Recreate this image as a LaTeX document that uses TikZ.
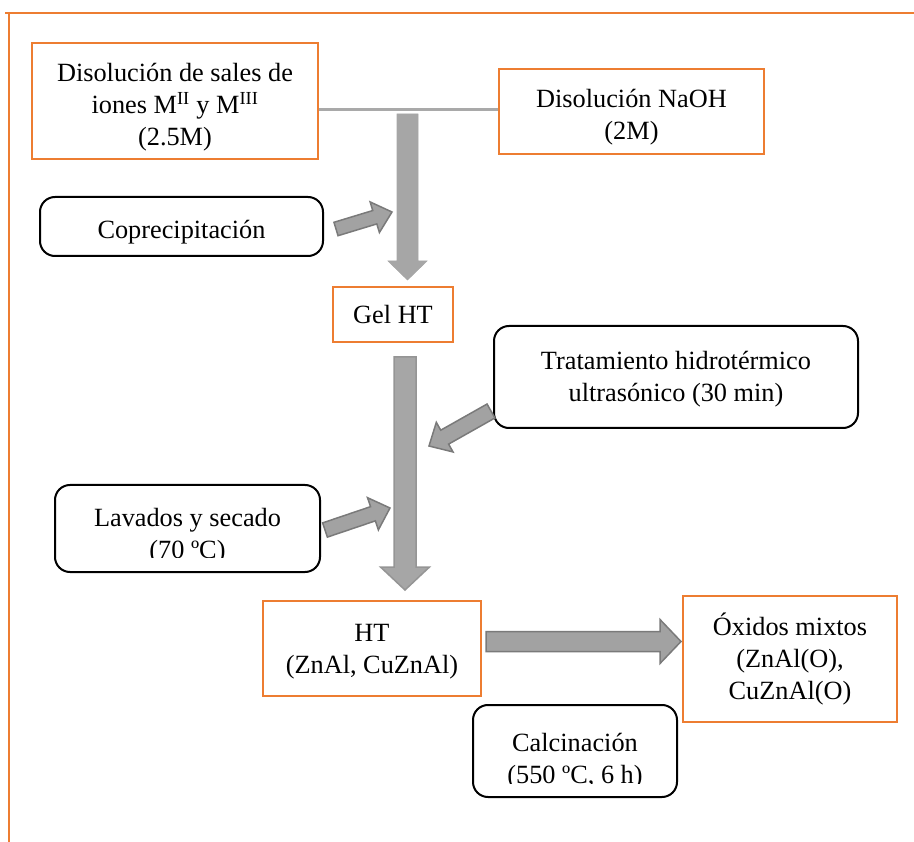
\documentclass[tikz,border=0pt]{standalone}
\usepackage{fontspec}
\setmainfont{Liberation Serif}
\usetikzlibrary{calc}

\definecolor{frameorange}{HTML}{ED7D31}
\definecolor{shaftgray}{HTML}{A6A6A6}
\definecolor{arrowfill}{HTML}{A2A2A2}
\definecolor{arrowedge}{HTML}{7A7A7A}
\definecolor{linkgray}{HTML}{A9A9A9}

% Block arrow: style, tail, tip, shaft half-width, head half-width, head length
\newcommand\grayarrow[6]{%
  \coordinate (ga-base) at ($(#3)!#6!(#2)$);
  \filldraw[#1]
    ($(#2)!#4!90:(#3)$) -- ($(ga-base)!#4!90:(#3)$) --
    ($(ga-base)!#5!90:(#3)$) -- (#3) --
    ($(ga-base)!#5!-90:(#3)$) -- ($(ga-base)!#4!-90:(#3)$) --
    ($(#2)!#4!-90:(#3)$) -- cycle;
}
% a taller first line pushes a text block down inside its box
\newcommand\topstrut[1]{\rule{0pt}{#1}}

\begin{document}
\begin{tikzpicture}[x=1pt, y=-1pt,
  every node/.style={font=\fontsize{26.3}{32}\selectfont, inner sep=0pt, align=center},
  orangebox/.style={draw=frameorange, line width=2.2pt},
  roundbox/.style={draw=black, line width=2pt, rounded corners=15pt},
  flatarrow/.style={fill=shaftgray, draw=shaftgray, line width=0.6pt},
  edgedarrow/.style={fill=shaftgray, draw=arrowedge!80!white, line width=1.5pt},
  smallarrow/.style={fill=arrowfill, draw=arrowedge, line width=1.5pt, line join=miter}]

\useasboundingbox (0,0) rectangle (914,842);

% page frame
\draw[frameorange, line width=2.6pt] (5,13) -- (914,13);
\draw[frameorange, line width=2.6pt] (9,12) -- (9,842);

% process boxes
\node[orangebox, minimum width=286pt, minimum height=116pt] (salts) at (175,101)
  {\topstrut{31pt}Disolución de sales de\\ iones M\textsuperscript{II} y M\textsuperscript{III}\\ (2.5M)};
\node[orangebox, minimum width=265pt, minimum height=85pt] (naoh) at (631.5,111.5)
  {\topstrut{29pt}Disolución NaOH\\ (2M)};
\node[roundbox, minimum width=283pt, minimum height=59pt] (coprec) at (181.5,226.5)
  {\topstrut{30pt}Coprecipitación};
\node[orangebox, minimum width=120pt, minimum height=55pt] (gel) at (393,314.5)
  {Gel HT};
\node[roundbox, minimum width=364pt, minimum height=102pt] (trat) at (676,377)
  {\topstrut{23pt}Tratamiento hidrotérmico\\ ultrasónico (30 min)};
\node[roundbox, minimum width=265pt, minimum height=87pt] (lav) at (187.5,528.5) {};
\begin{scope}
  \clip (lav.north west) rectangle ($(lav.east)+(0,29)$);
  \node (lavtext) at (187.5,536) {Lavados y secado\\ (70 ºC)};
\end{scope}
\node[orangebox, minimum width=218pt, minimum height=95pt] (ht) at (372,648.5)
  {\topstrut{23pt}HT\\ (ZnAl, CuZnAl)};
\node[orangebox, minimum width=214pt, minimum height=126pt] (oxid) at (790,659)
  {Óxidos mixtos\\ (ZnAl(O),\\ CuZnAl(O)};
\node[roundbox, minimum width=204pt, minimum height=92pt] (calcbox) at (575,751) {};
\begin{scope}
  \clip (calcbox.north west) rectangle ($(calcbox.east)+(0,32)$);
  \node (calctext) at (575,761) {Calcinación\\ (550 ºC, 6 h)};
\end{scope}

% joining line of the two solutions
\draw[linkgray, line width=3pt] (salts.east |- 0,110) -- (naoh.west |- 0,110);

% arrow end points
\coordinate (mixtop) at (407.5,114);
\coordinate (mixtip) at (407.5,280);
\coordinate (geltail) at (405,357);
\coordinate (geltip) at (405,590);
\coordinate (coptail) at (336,229);
\coordinate (coptip) at (392,212);
\coordinate (trattail) at (491,411);
\coordinate (trattip) at (429,446);
\coordinate (lavtail) at (325,530);
\coordinate (lavtip) at (390,508);
\coordinate (httail) at (486,641.5);
\coordinate (httip) at (681,641.5);

% main flow arrows
\grayarrow{flatarrow}{mixtop}{mixtip}{10.5pt}{19.5pt}{19pt}
\grayarrow{edgedarrow}{geltail}{geltip}{11pt}{24.5pt}{23pt}
\grayarrow{smallarrow}{httail}{httip}{10pt}{22pt}{21pt}

% side-step arrows
\grayarrow{smallarrow}{coptail}{coptip}{7pt}{16pt}{18pt}
\grayarrow{smallarrow}{trattail}{trattip}{8pt}{17pt}{18pt}
\grayarrow{smallarrow}{lavtail}{lavtip}{7.5pt}{17pt}{18pt}

\end{tikzpicture}
\end{document}
